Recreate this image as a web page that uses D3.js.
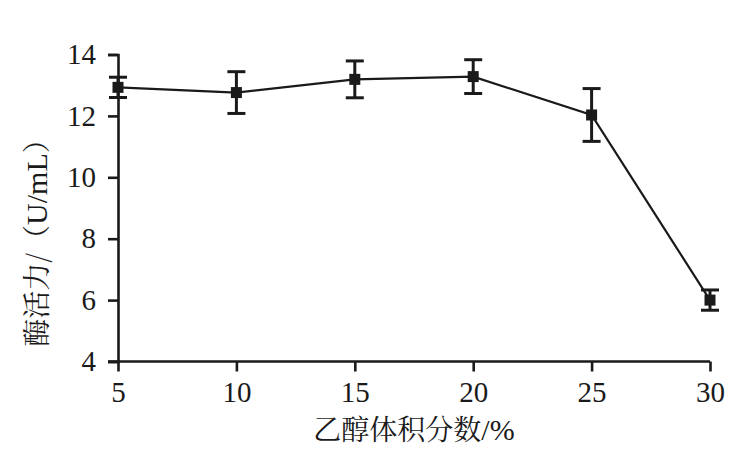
<!DOCTYPE html>
<html>
<head>
<meta charset="utf-8">
<script src="https://cdn.jsdelivr.net/npm/d3@7"></script>
</head>
<body style="margin:0;background:#fff">
<svg id="chart" width="744" height="458"></svg>
<script>
const ethanol = [5, 10, 15, 20, 25, 30];
const activity = [12.93, 12.76, 13.19, 13.28, 12.03, 6.0];
const errors = [0.33, 0.68, 0.6, 0.55, 0.86, 0.33];
const xTicks = [5, 10, 15, 20, 25, 30];
const yTicks = [4, 6, 8, 10, 12, 14];
const xLabelParts = [["乙醇体积分数", "cjk"], ["/%", "lat"]];
const yLabelParts = [["酶活力/（", "cjk"], ["U/mL", "lat"], ["）", "cjk"]];

const data = ethanol.map((e, i) => ({ x: e, y: activity[i], err: errors[i] }));

const svg = d3.select("#chart");
const ink = "#1a1a1a";
const latFont = "Liberation Serif";
const cjkFont = "Noto Serif CJK SC";

const x = d3.scaleLinear().domain([5, 30]).range([118, 710]);
const y = d3.scaleLinear().domain([4, 14]).range([361.5, 54.5]);

// axes
const gx = svg.append("g").attr("transform", `translate(0,${y(4)})`)
  .call(d3.axisBottom(x).tickValues(xTicks).tickSize(10).tickPadding(10).tickFormat(d3.format("d")));
const gy = svg.append("g").attr("transform", `translate(${x(5)},0)`)
  .call(d3.axisLeft(y).tickValues(yTicks).tickSize(10).tickPadding(12).tickFormat(d3.format("d")));

[gx, gy].forEach(g => {
  g.attr("font-family", latFont).attr("font-size", 29);
  g.select(".domain").attr("stroke", ink).attr("stroke-width", 2.6);
  g.selectAll(".tick line").attr("stroke", ink).attr("stroke-width", 2.6);
  g.selectAll(".tick text").attr("fill", ink)
    .attr("font-family", latFont).attr("font-size", 29);
});
gx.select(".domain").attr("d", `M${x(5) - 10},0H${x(30)}`);

// line
const line = d3.line().x(d => x(d.x)).y(d => y(d.y));
svg.append("path").datum(data)
  .attr("d", line).attr("fill", "none")
  .attr("stroke", ink).attr("stroke-width", 2.2);

// error bars
const cap = 9;
const eb = svg.append("g").attr("stroke", ink).attr("stroke-width", 3);
data.forEach(d => {
  const xc = x(d.x), yt = y(d.y + d.err), yb = y(d.y - d.err);
  eb.append("line").attr("x1", xc).attr("x2", xc).attr("y1", yt).attr("y2", yb);
  eb.append("line").attr("x1", xc - cap).attr("x2", xc + cap).attr("y1", yt).attr("y2", yt);
  eb.append("line").attr("x1", xc - cap).attr("x2", xc + cap).attr("y1", yb).attr("y2", yb);
});

// markers
const ms = 11;
svg.append("g").selectAll("rect").data(data).join("rect")
  .attr("x", d => x(d.x) - ms / 2).attr("y", d => y(d.y) - ms / 2)
  .attr("width", ms).attr("height", ms).attr("fill", ink);

// axis titles
function addParts(t, parts) {
  parts.forEach(([s, k]) => {
    t.append("tspan")
      .attr("font-family", k === "cjk" ? cjkFont : latFont)
      .attr("font-size", k === "cjk" ? 28 : 30)
      .text(s);
  });
}
const xt = svg.append("text")
  .attr("x", (x(5) + x(30)) / 2).attr("y", 440)
  .attr("text-anchor", "middle").attr("fill", ink);
addParts(xt, xLabelParts);

const yt = svg.append("text")
  .attr("transform", `translate(47,236) rotate(-90)`)
  .attr("text-anchor", "middle").attr("fill", ink);
addParts(yt, yLabelParts);
</script>
</body>
</html>
